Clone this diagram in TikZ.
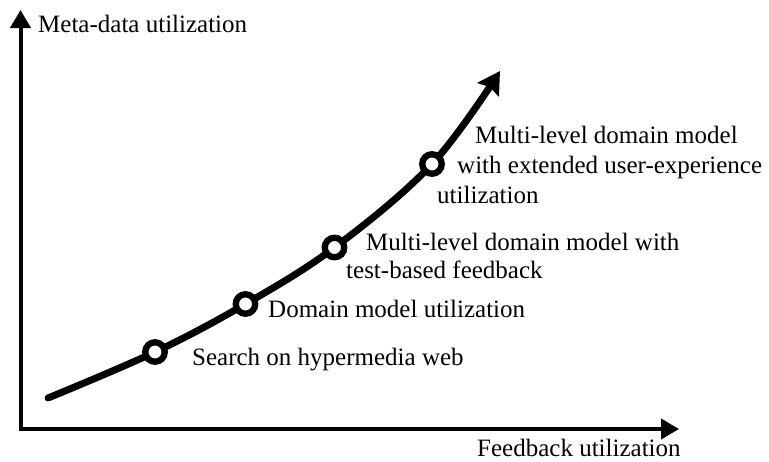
\documentclass[tikz,border=0pt]{standalone}
\usepackage{fontspec}
\setmainfont{Liberation Serif}
\usetikzlibrary{arrows.meta}
\begin{document}
\begin{tikzpicture}[x=1pt,y=-1pt,
  axis/.style={line width=4pt, line join=miter,
    {Triangle[width=20pt,length=18pt]}-{Triangle[width=20pt,length=18pt]}},
  growth/.style={line width=7pt, line cap=round,
    -{Stealth[width=25pt,length=22pt,inset=3pt]}},
  stage/.style={circle, draw, fill=white, line width=6.3pt, inner sep=0pt, minimum size=19.5pt},
  lbl/.style={anchor=base west, inner sep=0pt, font=\fontsize{25}{30}\selectfont}]
\useasboundingbox (0,0) rectangle (769,461);
% axes
\coordinate (O) at (20.5,429);
\coordinate (ytip) at (20.5,10);
\coordinate (xtip) at (679,429);
\draw[axis] (ytip) -- (O) -- (xtip);
\node[lbl] (ylabel) at (38,32) {Meta-data utilization};
\node[lbl] (xlabel) at (477,456) {Feedback utilization};
% curve
\coordinate (start) at (48,398);
\coordinate (p1) at (155,352);
\coordinate (p2) at (245.5,304);
\coordinate (p3) at (334.5,247.5);
\coordinate (p4) at (432,164);
\coordinate (finish) at (500,71);
\draw[growth] plot[smooth, tension=0.6] coordinates {(start) (p1) (p2) (p3) (p4) (finish)};
\node[stage] (s1) at (p1) {};
\node[stage] (s2) at (p2) {};
\node[stage] (s3) at (p3) {};
\node[stage] (s4) at (p4) {};
% labels
\node[lbl] (t1) at (192,365) {Search on hypermedia web};
\node[lbl] (t2) at (268,317) {Domain model utilization};
\node[lbl] (t3a) at (366,250) {Multi-level domain model with};
\node[lbl] (t3b) at (346,278) {test-based feedback};
\node[lbl] (t4a) at (475,143) {Multi-level domain model};
\node[lbl] (t4b) at (457,173) {with extended user-experience};
\node[lbl] (t4c) at (437,203) {utilization};
\end{tikzpicture}
\end{document}
